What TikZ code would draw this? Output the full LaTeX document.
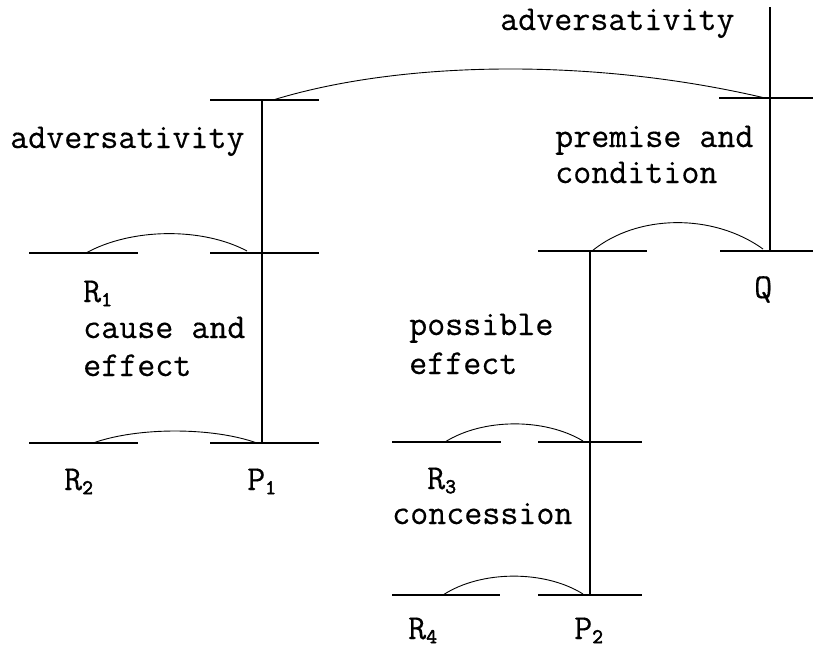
\documentclass[tikz,border=0pt]{standalone}
\usepackage{fontspec}
\setmonofont{Latin Modern Mono}[FakeBold=0.4]
\newcommand{\lsub}[1]{\raisebox{-0.12em}{\fontsize{21}{21}\selectfont\addfontfeature{FakeBold=2.5}#1}}
\begin{document}
\begin{tikzpicture}[x=1pt,y=-1pt,
  bar/.style={line width=2.6pt},
  vbar/.style={line width=2pt},
  link/.style={line width=0.9pt},
  lbl/.style={anchor=base west,inner sep=0pt,font=\ttfamily\fontsize{35}{40}\selectfont}]
\useasboundingbox (0,0) rectangle (813,651);
% horizontal bars
\coordinate (h1a) at (210,100);  \coordinate (h1b) at (319,100);
\coordinate (h2a) at (719,98);   \coordinate (h2b) at (813,98);
\coordinate (h3a) at (29,253);   \coordinate (h3b) at (138,253);
\coordinate (h4a) at (210,253);  \coordinate (h4b) at (319,253);
\coordinate (h5a) at (538,251);  \coordinate (h5b) at (647,251);
\coordinate (h6a) at (720,251);  \coordinate (h6b) at (813,251);
\coordinate (h7a) at (29,443);   \coordinate (h7b) at (138,443);
\coordinate (h8a) at (210,443);  \coordinate (h8b) at (319,443);
\coordinate (h9a) at (392,442);  \coordinate (h9b) at (501,442);
\coordinate (h10a) at (538,442); \coordinate (h10b) at (642,442);
\coordinate (h11a) at (392,595); \coordinate (h11b) at (500,595);
\coordinate (h12a) at (538,595); \coordinate (h12b) at (642,595);
\foreach \n in {h1,h2,h3,h4,h5,h6,h7,h8,h9,h10,h11,h12}
  \draw[bar] (\n a) -- (\n b);
% vertical bars
\coordinate (vt) at (770,7);   \coordinate (vtb) at (770,251);
\coordinate (vl) at (262,100); \coordinate (vlb) at (262,443);
\coordinate (vr) at (590,251); \coordinate (vrb) at (590,595);
\draw[vbar] (vt) -- (vtb);
\draw[vbar] (vl) -- (vlb);
\draw[vbar] (vr) -- (vrb);
% arcs
\coordinate (a0s) at (273,100); \coordinate (a0e) at (765,98);
\coordinate (a1s) at (86,253);  \coordinate (a1e) at (247,251);
\coordinate (a2s) at (93,443);  \coordinate (a2e) at (257,443);
\coordinate (a3s) at (592,251); \coordinate (a3e) at (763,249);
\coordinate (a4s) at (445,442); \coordinate (a4e) at (583,441);
\coordinate (a5s) at (443,595); \coordinate (a5e) at (583,594);
\draw[link] (a0s) .. controls +(130,-40) and +(-170,-40) .. (a0e);
\draw[link] (a1s) .. controls +(45,-25) and +(-45,-24) .. (a1e);
\draw[link] (a2s) .. controls +(45,-16) and +(-45,-16) .. (a2e);
\draw[link] (a3s) .. controls +(45,-37) and +(-50,-36) .. (a3e);
\draw[link] (a4s) .. controls +(38,-24) and +(-38,-23) .. (a4e);
\draw[link] (a5s) .. controls +(38,-25) and +(-38,-24) .. (a5e);
% labels
\node[lbl] (advtop) at (500,30) {adversativity};
\node[lbl] (advleft) at (10,148) {adversativity};
\node[lbl] (prem1) at (555,147) {premise and};
\node[lbl] (prem2) at (555,183) {condition};
\node[lbl] (r1) at (83,302) {R\lsub{1}};
\node[lbl] (ce1) at (83,338) {cause and};
\node[lbl] (ce2) at (83,376) {effect};
\node[lbl] (q) at (754,298) {Q};
\node[lbl] (pe1) at (409,335) {possible};
\node[lbl] (pe2) at (409,374) {effect};
\node[lbl] (r2) at (64,490) {R\lsub{2}};
\node[lbl] (p1) at (247,490) {P\lsub{1}};
\node[lbl] (r3) at (427,489) {R\lsub{3}};
\node[lbl] (conc) at (392,524) {concession};
\node[lbl] (r4) at (408,639) {R\lsub{4}};
\node[lbl] (p2) at (574,639) {P\lsub{2}};
\end{tikzpicture}
\end{document}
